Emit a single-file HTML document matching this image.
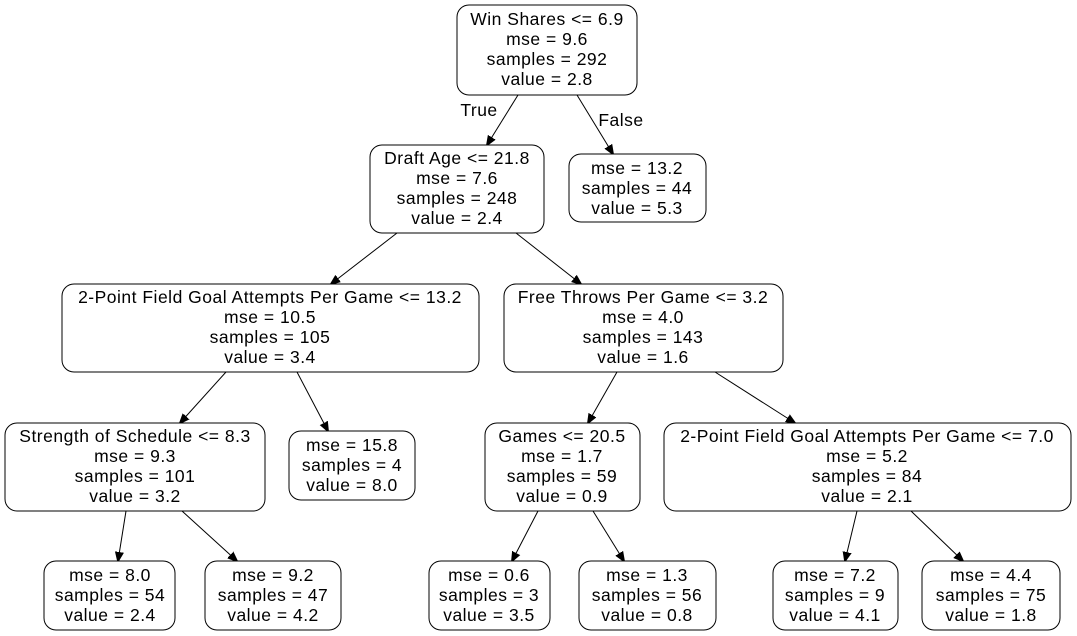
<!DOCTYPE html>
<html><head><meta charset="utf-8"><style>
html,body{margin:0;padding:0;background:#fff;}
svg{display:block;}
text{font-family:"Liberation Sans",Arial,sans-serif;font-size:17.5px;letter-spacing:0.5px;fill:#000;text-anchor:middle;dominant-baseline:central;}
rect{fill:#fff;stroke:#000;stroke-width:1;}
line{stroke:#000;stroke-width:1;}
polygon{fill:#000;stroke:#000;}
</style></head><body>
<svg width="1077" height="636" viewBox="0 0 1077 636">
<defs><marker id="a" markerWidth="10" markerHeight="10" refX="9" refY="5" orient="auto" markerUnits="userSpaceOnUse"><polygon points="0,1 10,5 0,9"/></marker></defs>
<line x1="518" y1="95" x2="487" y2="145" marker-end="url(#a)"/>
<line x1="577" y1="95" x2="613" y2="154" marker-end="url(#a)"/>
<text x="479" y="110">True</text>
<text x="621" y="120">False</text>
<line x1="397" y1="233" x2="331" y2="284" marker-end="url(#a)"/>
<line x1="516" y1="233" x2="581" y2="284" marker-end="url(#a)"/>
<line x1="226" y1="372" x2="180" y2="423" marker-end="url(#a)"/>
<line x1="297" y1="372" x2="328" y2="431" marker-end="url(#a)"/>
<line x1="617" y1="372" x2="588" y2="423" marker-end="url(#a)"/>
<line x1="715" y1="372" x2="795" y2="423" marker-end="url(#a)"/>
<line x1="126" y1="511" x2="118" y2="561" marker-end="url(#a)"/>
<line x1="182" y1="511" x2="237" y2="561" marker-end="url(#a)"/>
<line x1="538" y1="511" x2="512" y2="561" marker-end="url(#a)"/>
<line x1="593" y1="511" x2="624" y2="561" marker-end="url(#a)"/>
<line x1="857" y1="511" x2="845" y2="561" marker-end="url(#a)"/>
<line x1="911" y1="511" x2="963" y2="561" marker-end="url(#a)"/>

<rect x="457" y="5" width="180" height="90" rx="12"/>
<text x="547" y="19">Win Shares &lt;= 6.9</text><text x="547" y="39">mse = 9.6</text><text x="547" y="59">samples = 292</text><text x="547" y="79">value = 2.8</text>

<rect x="370" y="145" width="174" height="88" rx="12"/>
<text x="457" y="158">Draft Age &lt;= 21.8</text><text x="457" y="178">mse = 7.6</text><text x="457" y="198">samples = 248</text><text x="457" y="218">value = 2.4</text>

<rect x="569" y="154" width="137" height="68" rx="12"/>
<text x="637" y="168">mse = 13.2</text><text x="637" y="188">samples = 44</text><text x="637" y="208">value = 5.3</text>

<rect x="62" y="284" width="417" height="88" rx="12"/>
<text x="270" y="297">2-Point Field Goal Attempts Per Game &lt;= 13.2</text><text x="270" y="317">mse = 10.5</text><text x="270" y="337">samples = 105</text><text x="270" y="357">value = 3.4</text>

<rect x="504" y="284" width="279" height="88" rx="12"/>
<text x="643" y="297">Free Throws Per Game &lt;= 3.2</text><text x="643" y="317">mse = 4.0</text><text x="643" y="337">samples = 143</text><text x="643" y="357">value = 1.6</text>

<rect x="5" y="423" width="260" height="88" rx="12"/>
<text x="135" y="436">Strength of Schedule &lt;= 8.3</text><text x="135" y="456">mse = 9.3</text><text x="135" y="476">samples = 101</text><text x="135" y="496">value = 3.2</text>

<rect x="289" y="431" width="126" height="69" rx="12"/>
<text x="352" y="445">mse = 15.8</text><text x="352" y="465">samples = 4</text><text x="352" y="485">value = 8.0</text>

<rect x="485" y="423" width="155" height="88" rx="12"/>
<text x="562" y="436">Games &lt;= 20.5</text><text x="562" y="456">mse = 1.7</text><text x="562" y="476">samples = 59</text><text x="562" y="496">value = 0.9</text>

<rect x="664" y="423" width="407" height="88" rx="12"/>
<text x="867" y="436">2-Point Field Goal Attempts Per Game &lt;= 7.0</text><text x="867" y="456">mse = 5.2</text><text x="867" y="476">samples = 84</text><text x="867" y="496">value = 2.1</text>

<rect x="44" y="561" width="131" height="69" rx="12"/>
<text x="110" y="575">mse = 8.0</text><text x="110" y="595">samples = 54</text><text x="110" y="615">value = 2.4</text>

<rect x="205" y="561" width="136" height="69" rx="12"/>
<text x="273" y="575">mse = 9.2</text><text x="273" y="595">samples = 47</text><text x="273" y="615">value = 4.2</text>

<rect x="429" y="561" width="121" height="69" rx="12"/>
<text x="489" y="575">mse = 0.6</text><text x="489" y="595">samples = 3</text><text x="489" y="615">value = 3.5</text>

<rect x="579" y="561" width="137" height="69" rx="12"/>
<text x="647" y="575">mse = 1.3</text><text x="647" y="595">samples = 56</text><text x="647" y="615">value = 0.8</text>

<rect x="773" y="561" width="125" height="69" rx="12"/>
<text x="835" y="575">mse = 7.2</text><text x="835" y="595">samples = 9</text><text x="835" y="615">value = 4.1</text>

<rect x="922" y="561" width="138" height="69" rx="12"/>
<text x="991" y="575">mse = 4.4</text><text x="991" y="595">samples = 75</text><text x="991" y="615">value = 1.8</text>
</svg>
</body></html>
